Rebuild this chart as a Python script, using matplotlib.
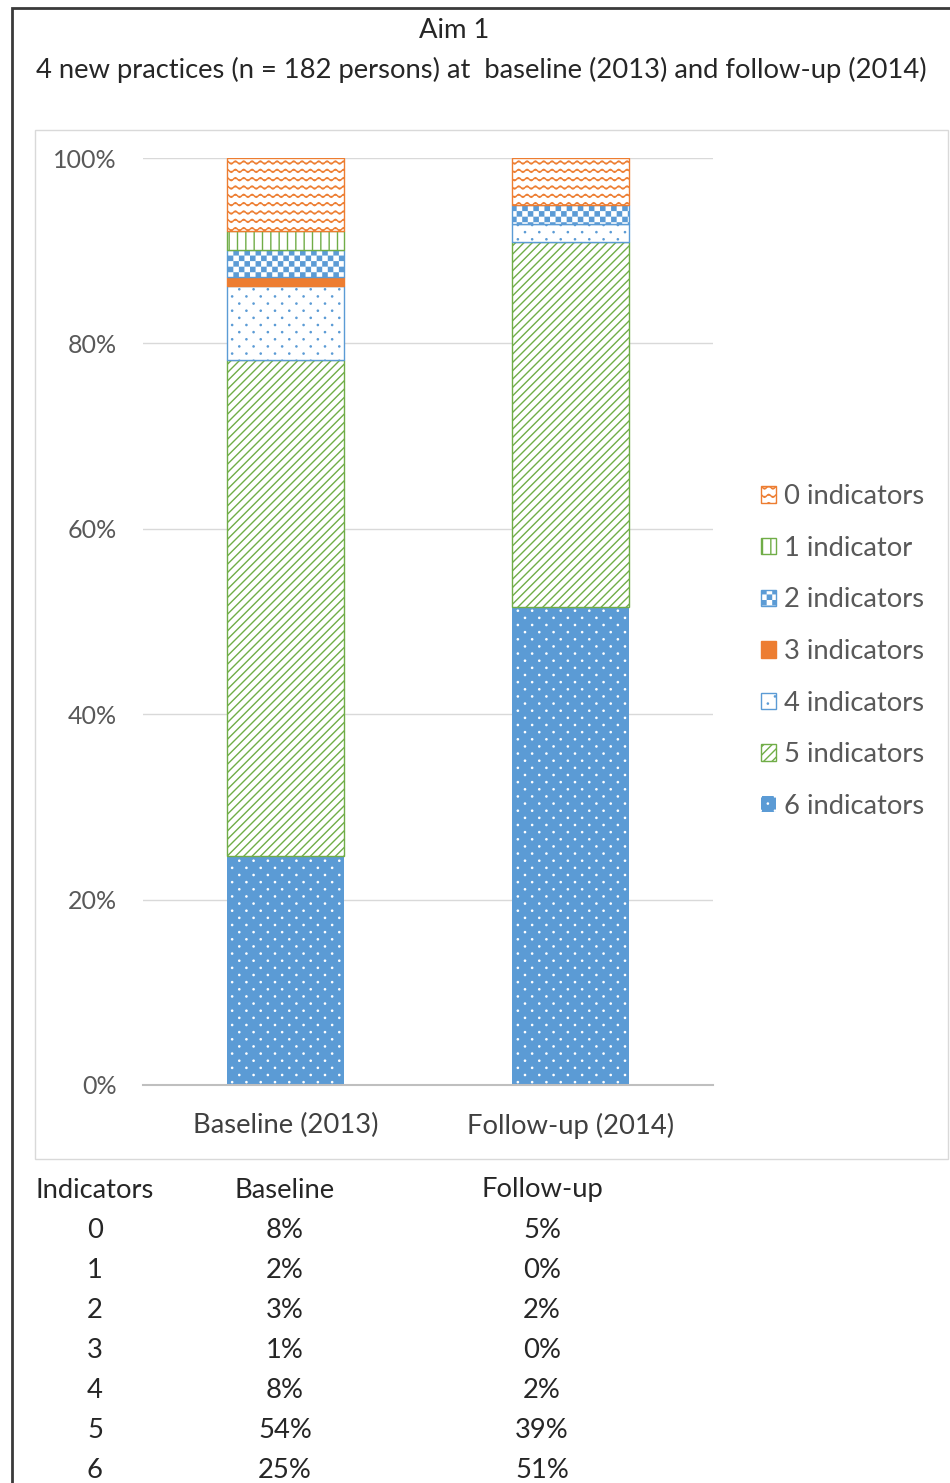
import warnings
import numpy as np
import matplotlib
matplotlib.use('Agg')
import matplotlib.pyplot as plt
import matplotlib.hatch as mhatch
from matplotlib.path import Path
from matplotlib.patches import Rectangle
from matplotlib.ticker import PercentFormatter

warnings.filterwarnings('ignore')

categories = ['Baseline (2013)', 'Follow-up (2014)']
levels = ['0 indicators', '1 indicator', '2 indicators', '3 indicators',
          '4 indicators', '5 indicators', '6 indicators']
level_ids = [0, 1, 2, 3, 4, 5, 6]
baseline = [8, 2, 3, 1, 8, 54, 25]
followup = [5, 0, 2, 0, 2, 39, 51]

plt.rcParams['font.family'] = ['Lato', 'DejaVu Sans']
plt.rcParams['hatch.linewidth'] = 1.0

HATCH_LW = plt.rcParams['hatch.linewidth']
FS = 19.7


# extra hatch patterns: wavy lines, checkerboard and staggered dots
class WaveHatch(mhatch.HatchPatternBase):
    def __init__(self, hatch, density):
        self.num_lines = int(hatch.count('~') * density)
        self.steps = self.num_lines * 8
        self.num_vertices = self.num_lines * (self.steps + 1)

    def set_vertices_and_codes(self, vertices, codes):
        xs = np.linspace(0, 1, self.steps + 1)
        amp = 0.18 / self.num_lines
        ys = amp * np.sin(2 * np.pi * self.num_lines * xs)
        n = self.steps + 1
        for i in range(self.num_lines):
            y0 = (i + 0.5) / self.num_lines
            vertices[i * n:(i + 1) * n, 0] = xs
            vertices[i * n:(i + 1) * n, 1] = y0 + ys
            codes[i * n] = Path.MOVETO
            codes[i * n + 1:(i + 1) * n] = Path.LINETO


class CheckerHatch(mhatch.HatchPatternBase):
    def __init__(self, hatch, density):
        self.cells = int(hatch.count('#') * density)
        self.cells += self.cells % 2
        self.num_vertices = (self.cells * self.cells // 2) * 5 if self.cells else 0

    def set_vertices_and_codes(self, vertices, codes):
        step = 1.0 / self.cells
        inset = HATCH_LW / 72 / 2
        k = 0
        for i in range(self.cells):
            for j in range(self.cells):
                if (i + j) % 2:
                    continue
                x0, y0 = i * step + inset, j * step + inset
                x1, y1 = (i + 1) * step - inset, (j + 1) * step - inset
                vertices[k:k + 5] = [(x0, y0), (x1, y0), (x1, y1), (x0, y1), (x0, y0)]
                codes[k:k + 5] = [Path.MOVETO, Path.LINETO, Path.LINETO,
                                  Path.LINETO, Path.CLOSEPOLY]
                k += 5


class DotHatch(mhatch.HatchPatternBase):
    def __init__(self, hatch, density):
        self.rows = hatch.count(':') * 7
        self.cols = self.rows // 2
        self.circle = Path.unit_circle()
        npts = len(self.circle.vertices)
        self.num_vertices = self.rows * self.cols * npts if self.rows else 0

    def set_vertices_and_codes(self, vertices, codes):
        rstep = 1.0 / self.rows
        cstep = 1.0 / self.cols
        shape = self.circle.vertices * 0.006
        npts = len(shape)
        k = 0
        for r in range(self.rows):
            shift = cstep / 2 if r % 2 else 0
            for c in range(self.cols):
                cx = (c + 0.25) * cstep + shift
                cy = (r + 0.5) * rstep
                vertices[k:k + npts] = shape + [cx, cy]
                codes[k:k + npts] = self.circle.codes
                k += npts


mhatch._hatch_types.extend([WaveHatch, CheckerHatch, DotHatch])

orange = '#ED7D31'
green = '#70AD47'
blue = '#5B9BD5'

# fill, edge/hatch colour, hatch for each level (0..6)
styles = {
    0: ('white', orange, '~~'),
    1: ('white', green, '||'),
    2: ('white', blue, '###'),
    3: (orange, orange, None),
    4: ('white', blue, '::'),
    5: ('white', green, '////'),
    6: (blue, 'white', '::'),
}

fig = plt.figure(figsize=(9.5, 14.83), dpi=100)
W, H = 950, 1483

ax = fig.add_axes([143 / W, 1 - 1085 / H, 570 / W, 927 / H])

base_arr = np.array(baseline, dtype=float)
fol_arr = np.array(followup, dtype=float)
shares = np.vstack([base_arr / base_arr.sum(), fol_arr / fol_arr.sum()])
x = np.arange(len(categories))
bottom = np.zeros(len(categories))
width = 0.41

handles = {}
for idx in reversed(level_ids):
    vals = shares[:, idx]
    fc, ec, hatch = styles[idx]
    lw = [1.0 if (v > 0 and idx != 6) else 0 for v in vals]
    bars = ax.bar(x, vals, width, bottom=bottom, color=fc, edgecolor=ec,
                  hatch=hatch, linewidth=lw, label=levels[idx], zorder=3)
    handles[idx] = bars
    bottom += vals

ax.set_xlim(-0.5, 1.5)
ax.set_ylim(0, 1)
ax.set_yticks(np.arange(0, 1.01, 0.2))
ax.yaxis.set_major_formatter(PercentFormatter(1.0, decimals=0))
ax.set_xticks(x)
ax.set_xticklabels(categories)
ax.tick_params(axis='y', length=0, pad=19, labelsize=18, labelcolor='#595959')
ax.tick_params(axis='x', length=0, pad=20, labelsize=FS, labelcolor='#404040')
ax.grid(axis='y', color='#D9D9D9', lw=1, zorder=0)
for side in ['top', 'right', 'left']:
    ax.spines[side].set_visible(False)
ax.spines['bottom'].set_color('#BFBFBF')
ax.spines['bottom'].set_linewidth(1.5)
ax.spines['bottom'].set_zorder(4)

leg = fig.legend([handles[i] for i in level_ids], levels, loc='center left',
                 bbox_to_anchor=(761 / W, 1 - 651.5 / H), frameon=False,
                 fontsize=FS, labelcolor='#595959', handlelength=0.55,
                 handleheight=0.55, handletextpad=0.3, labelspacing=0.97,
                 borderpad=0, borderaxespad=0)

# titles
fig.text(454 / W, 1 - 30 / H, 'Aim 1', ha='center', va='center', fontsize=FS,
         color='#262626')
fig.text(481 / W, 1 - 70 / H,
         '4 new practices (n = 182 persons) at  baseline (2013) and follow-up (2014)',
         ha='center', va='center', fontsize=FS, color='#262626')

# chart box and outer frame
fig.add_artist(Rectangle((35 / W, 1 - 1159 / H), 913 / W, 1029 / H,
                         transform=fig.transFigure, fill=False,
                         edgecolor='#D9D9D9', lw=1))
fig.add_artist(Rectangle((11.5 / W, -0.1), 2, 1.1 - 8 / H,
                         transform=fig.transFigure, fill=False,
                         edgecolor='#3A3A3A', lw=2))

# summary table under the chart
col_x = [95, 285, 542]
fig.text(col_x[0] / W, 1 - 1190 / H, 'Indicators', ha='center', va='center',
         fontsize=FS, color='#262626')
fig.text(col_x[1] / W, 1 - 1190 / H, 'Baseline', ha='center', va='center',
         fontsize=FS, color='#262626')
fig.text(col_x[2] / W, 1 - 1190 / H, 'Follow-up', ha='center', va='center',
         fontsize=FS, color='#262626')
for i, lvl in enumerate(level_ids):
    y = 1 - (1230 + 40 * i) / H
    fig.text(col_x[0] / W, y, str(lvl), ha='center', va='center',
             fontsize=FS, color='#262626')
    fig.text(col_x[1] / W, y, f'{baseline[i]}%', ha='center', va='center',
             fontsize=FS, color='#262626')
    fig.text(col_x[2] / W, y, f'{followup[i]}%', ha='center', va='center',
             fontsize=FS, color='#262626')

fig.savefig('out.png', dpi=100)
